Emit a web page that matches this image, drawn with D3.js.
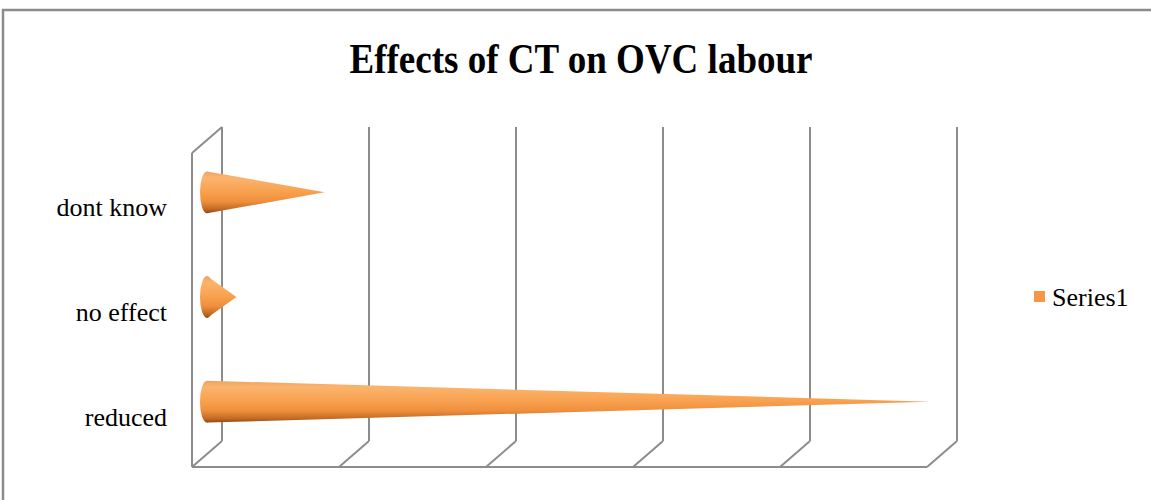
<!DOCTYPE html>
<html>
<head>
<meta charset="utf-8">
<script src="https://cdn.jsdelivr.net/npm/d3@7/dist/d3.min.js"></script>
<style>
  html, body { margin: 0; padding: 0; background: #ffffff; }
  svg { display: block; }
</style>
</head>
<body>
<svg id="chart" width="1151" height="500"></svg>
<script>
// Chart data
const categories = ["dont know", "no effect", "reduced"];
const seriesName = "Series1";
const values = [8, 2, 49.2];
const valueDomain = [0, 50];
const titleText = "Effects of CT on OVC labour";

const svg = d3.select("#chart");
const W = 1151, H = 500;

// Chart area frame
const frameColor = "#8c8c8c";
svg.append("path")
  .attr("d", `M3,${H} L3,10 L${W},10`)
  .attr("fill", "none")
  .attr("stroke", frameColor)
  .attr("stroke-width", 2.5);

// Title
svg.append("text")
  .attr("x", 581)
  .attr("y", 73)
  .attr("text-anchor", "middle")
  .attr("font-family", "'Liberation Serif', 'Times New Roman', serif")
  .attr("font-weight", "bold")
  .attr("font-size", 42)
  .attr("textLength", 463)
  .attr("lengthAdjust", "spacingAndGlyphs")
  .attr("fill", "#000")
  .text(titleText);

// 3-D plot geometry: front plane plus a depth offset to the back wall
const front = { left: 192, right: 927, top: 153, bottom: 467 };
const depth = { dx: 30, dy: -26 };

const x = d3.scaleLinear().domain(valueDomain).range([front.left, front.right]);
const y = d3.scaleBand().domain(categories).range([front.top, front.bottom]).padding(0);

const grid = svg.append("g")
  .attr("stroke", frameColor)
  .attr("stroke-width", 2)
  .attr("fill", "none");

const ticks = x.ticks(5);

// Back wall vertical gridlines and floor diagonals
ticks.forEach(t => {
  const fx = x(t);
  grid.append("line")
    .attr("x1", fx + depth.dx).attr("y1", front.top + depth.dy)
    .attr("x2", fx + depth.dx).attr("y2", front.bottom + depth.dy);
  grid.append("line")
    .attr("x1", fx).attr("y1", front.bottom)
    .attr("x2", fx + depth.dx).attr("y2", front.bottom + depth.dy);
});

// Front floor edge
grid.append("line")
  .attr("x1", x(valueDomain[0])).attr("y1", front.bottom)
  .attr("x2", x(valueDomain[1])).attr("y2", front.bottom);

// Left side wall: front edge and top edge
grid.append("line")
  .attr("x1", front.left).attr("y1", front.top)
  .attr("x2", front.left).attr("y2", front.bottom);
grid.append("line")
  .attr("x1", front.left).attr("y1", front.top)
  .attr("x2", front.left + depth.dx).attr("y2", front.top + depth.dy);

// Cone shading
const defs = svg.append("defs");
const grad = defs.append("linearGradient")
  .attr("id", "coneShade")
  .attr("x1", 0).attr("y1", 0).attr("x2", 0).attr("y2", 1);
[
  [0, "#f2a25c"],
  [0.15, "#fab46e"],
  [0.45, "#f9a352"],
  [0.72, "#ef8f3c"],
  [0.9, "#c46a24"],
  [1, "#8f4a14"]
].forEach(([o, c]) => grad.append("stop").attr("offset", o).attr("stop-color", c));

// Cones sit halfway into the depth
const mid = { dx: depth.dx / 2, dy: depth.dy / 2 };
const r = y.bandwidth() * 0.2;
const baseRx = 7;

const cones = svg.append("g");
categories.forEach((cat, i) => {
  const cy = y(cat) + y.bandwidth() / 2 + mid.dy;
  const bx = x(0) + mid.dx;
  const tx = x(values[i]) + mid.dx;
  const g = cones.append("g");
  g.append("ellipse")
    .attr("cx", bx).attr("cy", cy)
    .attr("rx", baseRx).attr("ry", r)
    .attr("fill", "url(#coneShade)");
  g.append("path")
    .attr("d", `M${bx},${cy - r} L${tx},${cy} L${bx},${cy + r} Z`)
    .attr("fill", "url(#coneShade)");
});

// Category labels
svg.append("g")
  .selectAll("text")
  .data(categories)
  .join("text")
  .attr("x", 167)
  .attr("y", d => y(d) + y.bandwidth() / 2 + 2)
  .attr("dy", "0.35em")
  .attr("text-anchor", "end")
  .attr("font-family", "'Liberation Serif', 'Times New Roman', serif")
  .attr("font-size", 26)
  .attr("fill", "#000")
  .text(d => d);

// Legend
const legend = svg.append("g");
legend.append("rect")
  .attr("x", 1034).attr("y", 291)
  .attr("width", 11).attr("height", 11)
  .attr("fill", "#f79646");
legend.append("text")
  .attr("x", 1052).attr("y", 306)
  .attr("font-family", "'Liberation Serif', 'Times New Roman', serif")
  .attr("font-size", 26)
  .attr("fill", "#000")
  .text(seriesName);
</script>
</body>
</html>
